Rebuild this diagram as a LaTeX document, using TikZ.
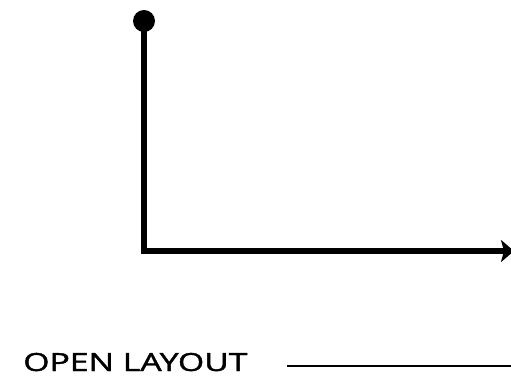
\documentclass[tikz,border=0pt]{standalone}
\usepackage{fontspec}
\setmainfont{Open Sans}
\newfontfamily\labelfont[FakeBold=1.3]{Open Sans}
\usetikzlibrary{arrows.meta}
\tikzset{
  axis/.style={line width=5.4pt, line join=miter, -{Stealth[length=13pt,width=22pt,inset=3pt]}},
  dotnode/.style={circle, fill=black, inner sep=0pt, minimum size=22pt},
  label/.style={inner sep=0pt, anchor=base west, font=\labelfont\fontsize{25}{25}\selectfont, xscale=1.35},
  rule/.style={line width=2.6pt}
}
\begin{document}
\begin{tikzpicture}[x=1pt,y=1pt]
\useasboundingbox (0,0) rectangle (511,380);
\node[dotnode] (dot) at (144,359) {};
\coordinate (corner) at (144,129);
\coordinate (tip) at (514,129);
\draw[axis] (dot.center) |- (tip);
\node[label] (title) at (23,9) {OPEN LAYOUT};
\coordinate (rs) at (287,14);
\coordinate (re) at (511,14);
\draw[rule] (rs) -- (re);
\end{tikzpicture}
\end{document}
